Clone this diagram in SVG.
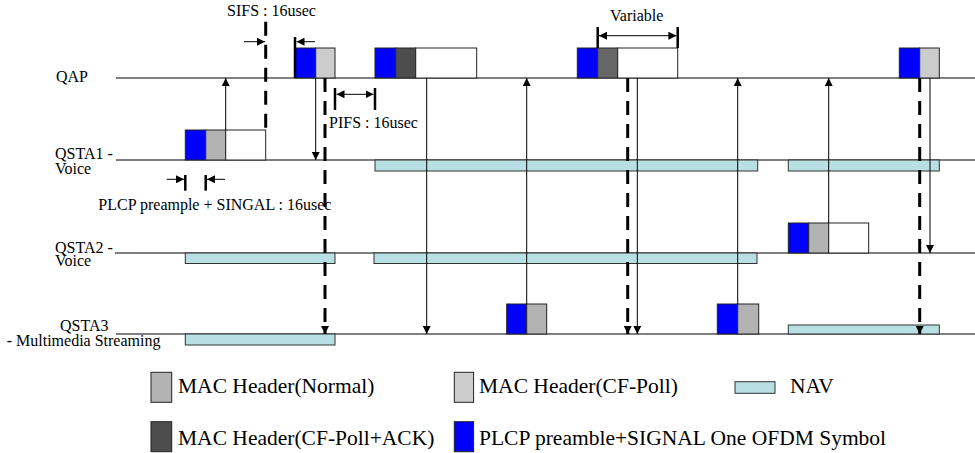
<svg xmlns="http://www.w3.org/2000/svg" width="975" height="453" viewBox="0 0 975 453">
<style>
.t{font-family:"Liberation Serif","Times New Roman",serif;font-size:16px;fill:#000}
.lg{font-family:"Liberation Serif","Times New Roman",serif;font-size:21.5px;fill:#000}
.tl{stroke:#000;stroke-width:1.2;fill:none}
.b{stroke:#222;stroke-width:1}
.pl{fill:#0000ff}
.nh{fill:#b3b3b3}
.cp{fill:#cccccc}
.ca{fill:#4d4d4d}
.cb{fill:#666666}
.wd{fill:#ffffff}
.nav{fill:#b8dfe3;stroke:#333;stroke-width:1}
.ar{stroke:#000;stroke-width:1;fill:none}
.da{stroke:#000;stroke-width:3;fill:none;stroke-dasharray:14 9}
.bar{stroke:#000;stroke-width:2.5;fill:none}
</style>
<defs>
<marker id="ah" viewBox="0 0 10 10" refX="10" refY="5" markerWidth="8" markerHeight="8" markerUnits="userSpaceOnUse" orient="auto-start-reverse"><path d="M0,0 L10,5 L0,10 z" fill="#000"/></marker>
</defs>

<g id="qap">
<text class="t" x="56" y="82">QAP</text>
<line class="tl" x1="116" y1="78" x2="975" y2="78"/>
<rect class="b pl" x="295" y="48" width="20.7" height="30"/>
<rect class="b cp" x="315.7" y="48" width="19.3" height="30"/>
<rect class="b pl" x="375" y="48" width="20.7" height="30"/>
<rect class="b ca" x="395.7" y="48" width="20" height="30"/>
<rect class="b wd" x="415.7" y="48" width="61" height="30"/>
<rect class="b pl" x="577.3" y="48" width="20.4" height="30"/>
<rect class="b cb" x="597.7" y="48" width="20" height="30"/>
<rect class="b wd" x="617.7" y="48" width="60" height="30"/>
<rect class="b pl" x="899.3" y="48" width="20.4" height="30"/>
<rect class="b cp" x="919.7" y="48" width="19.6" height="30"/>
</g>

<g id="qsta1">
<text class="t" x="55" y="159">QSTA1 -</text>
<text class="t" x="55" y="173.5">Voice</text>
<line class="tl" x1="116" y1="160" x2="975" y2="160"/>
<rect class="b pl" x="185.3" y="130" width="20.4" height="30"/>
<rect class="b nh" x="205.7" y="130" width="20" height="30"/>
<rect class="b wd" x="225.7" y="130" width="40" height="30"/>
<rect class="nav" x="375" y="160" width="382.7" height="11"/>
<rect class="nav" x="788.3" y="160" width="151" height="11"/>
</g>

<g id="qsta2">
<text class="t" x="55" y="252.5">QSTA2 -</text>
<text class="t" x="55" y="266">Voice</text>
<line class="tl" x1="115" y1="253" x2="975" y2="253"/>
<rect class="nav" x="185.3" y="253" width="149.7" height="10.5"/>
<rect class="nav" x="374" y="253" width="383" height="10.5"/>
<rect class="b pl" x="788.3" y="223" width="20.4" height="30"/>
<rect class="b nh" x="808.7" y="223" width="20" height="30"/>
<rect class="b wd" x="828.7" y="223" width="40" height="30"/>
</g>

<g id="qsta3">
<text class="t" x="60" y="331">QSTA3</text>
<text class="t" x="6.7" y="346">- Multimedia Streaming</text>
<line class="tl" x1="116" y1="334" x2="975" y2="334"/>
<rect class="nav" x="185.3" y="334" width="149.7" height="11"/>
<rect class="nav" x="788.3" y="325" width="151" height="9"/>
<rect class="b pl" x="506.7" y="304" width="20" height="30"/>
<rect class="b nh" x="526.7" y="304" width="20" height="30"/>
<rect class="b pl" x="717.3" y="304" width="20.4" height="30"/>
<rect class="b nh" x="737.7" y="304" width="21" height="30"/>
</g>

<g id="connectors">
<path class="ar" d="M225.7,130 V78" marker-end="url(#ah)"/>
<path class="ar" d="M315.7,78 V160" marker-end="url(#ah)"/>
<path class="da" d="M265.7,21.7 V130"/>
<path class="da" d="M325,78 V334" marker-end="url(#ah)"/>
<path class="ar" d="M426.7,78 V334" marker-end="url(#ah)"/>
<path class="ar" d="M526.7,304 V78" marker-end="url(#ah)"/>
<path class="da" d="M627.7,78 V334" marker-end="url(#ah)"/>
<path class="ar" d="M637.3,78 V334" marker-end="url(#ah)"/>
<path class="ar" d="M737.7,304 V78" marker-end="url(#ah)"/>
<path class="ar" d="M828.7,223 V78" marker-end="url(#ah)"/>
<path class="da" d="M919.7,78 V334" marker-end="url(#ah)"/>
<path class="ar" d="M930,78 V253" marker-end="url(#ah)"/>
</g>

<g id="timing">
<text class="t" x="227" y="16">SIFS : 16usec</text>
<path class="ar" d="M244,41.7 H265" marker-end="url(#ah)"/>
<line class="bar" x1="295" y1="37" x2="295" y2="78"/>
<path class="ar" d="M315,41.7 H296.5" marker-end="url(#ah)"/>

<line class="bar" x1="335" y1="88" x2="335" y2="110"/>
<line class="bar" x1="375" y1="88" x2="375" y2="110"/>
<path class="ar" d="M336.5,94.3 H373.5" marker-start="url(#ah)" marker-end="url(#ah)"/>
<text class="t" x="329" y="128">PIFS : 16usec</text>

<text class="t" x="636.7" y="20.5" text-anchor="middle">Variable</text>
<line class="bar" x1="597.7" y1="27" x2="597.7" y2="48"/>
<line class="bar" x1="677.7" y1="27" x2="677.7" y2="48"/>
<path class="ar" d="M599,35.7 H676.4" marker-start="url(#ah)" marker-end="url(#ah)"/>

<line class="bar" x1="185.3" y1="175" x2="185.3" y2="190.7"/>
<line class="bar" x1="205.7" y1="175" x2="205.7" y2="190.7"/>
<path class="ar" d="M166.7,179.3 H184" marker-end="url(#ah)"/>
<path class="ar" d="M225,179.3 H207" marker-end="url(#ah)"/>
<text class="t" x="98.3" y="209.5">PLCP preample + SINGAL : 16usec</text>
</g>

<g id="legend">
<rect class="b nh" x="151" y="372.3" width="20.7" height="30"/>
<text class="lg" x="178" y="393">MAC Header(Normal)</text>
<rect class="b cp" x="454.3" y="372.3" width="19.3" height="30"/>
<text class="lg" x="479" y="393">MAC Header(CF-Poll)</text>
<rect class="nav" x="735" y="381.7" width="40" height="11.6"/>
<text class="lg" x="790" y="393">NAV</text>
<rect class="b ca" x="151" y="421.7" width="20.7" height="30"/>
<text class="lg" x="178" y="445">MAC Header(CF-Poll+ACK)</text>
<rect class="b pl" x="454.3" y="421.7" width="19.3" height="30"/>
<text class="lg" x="479" y="445">PLCP preamble+SIGNAL One OFDM Symbol</text>
</g>
</svg>
